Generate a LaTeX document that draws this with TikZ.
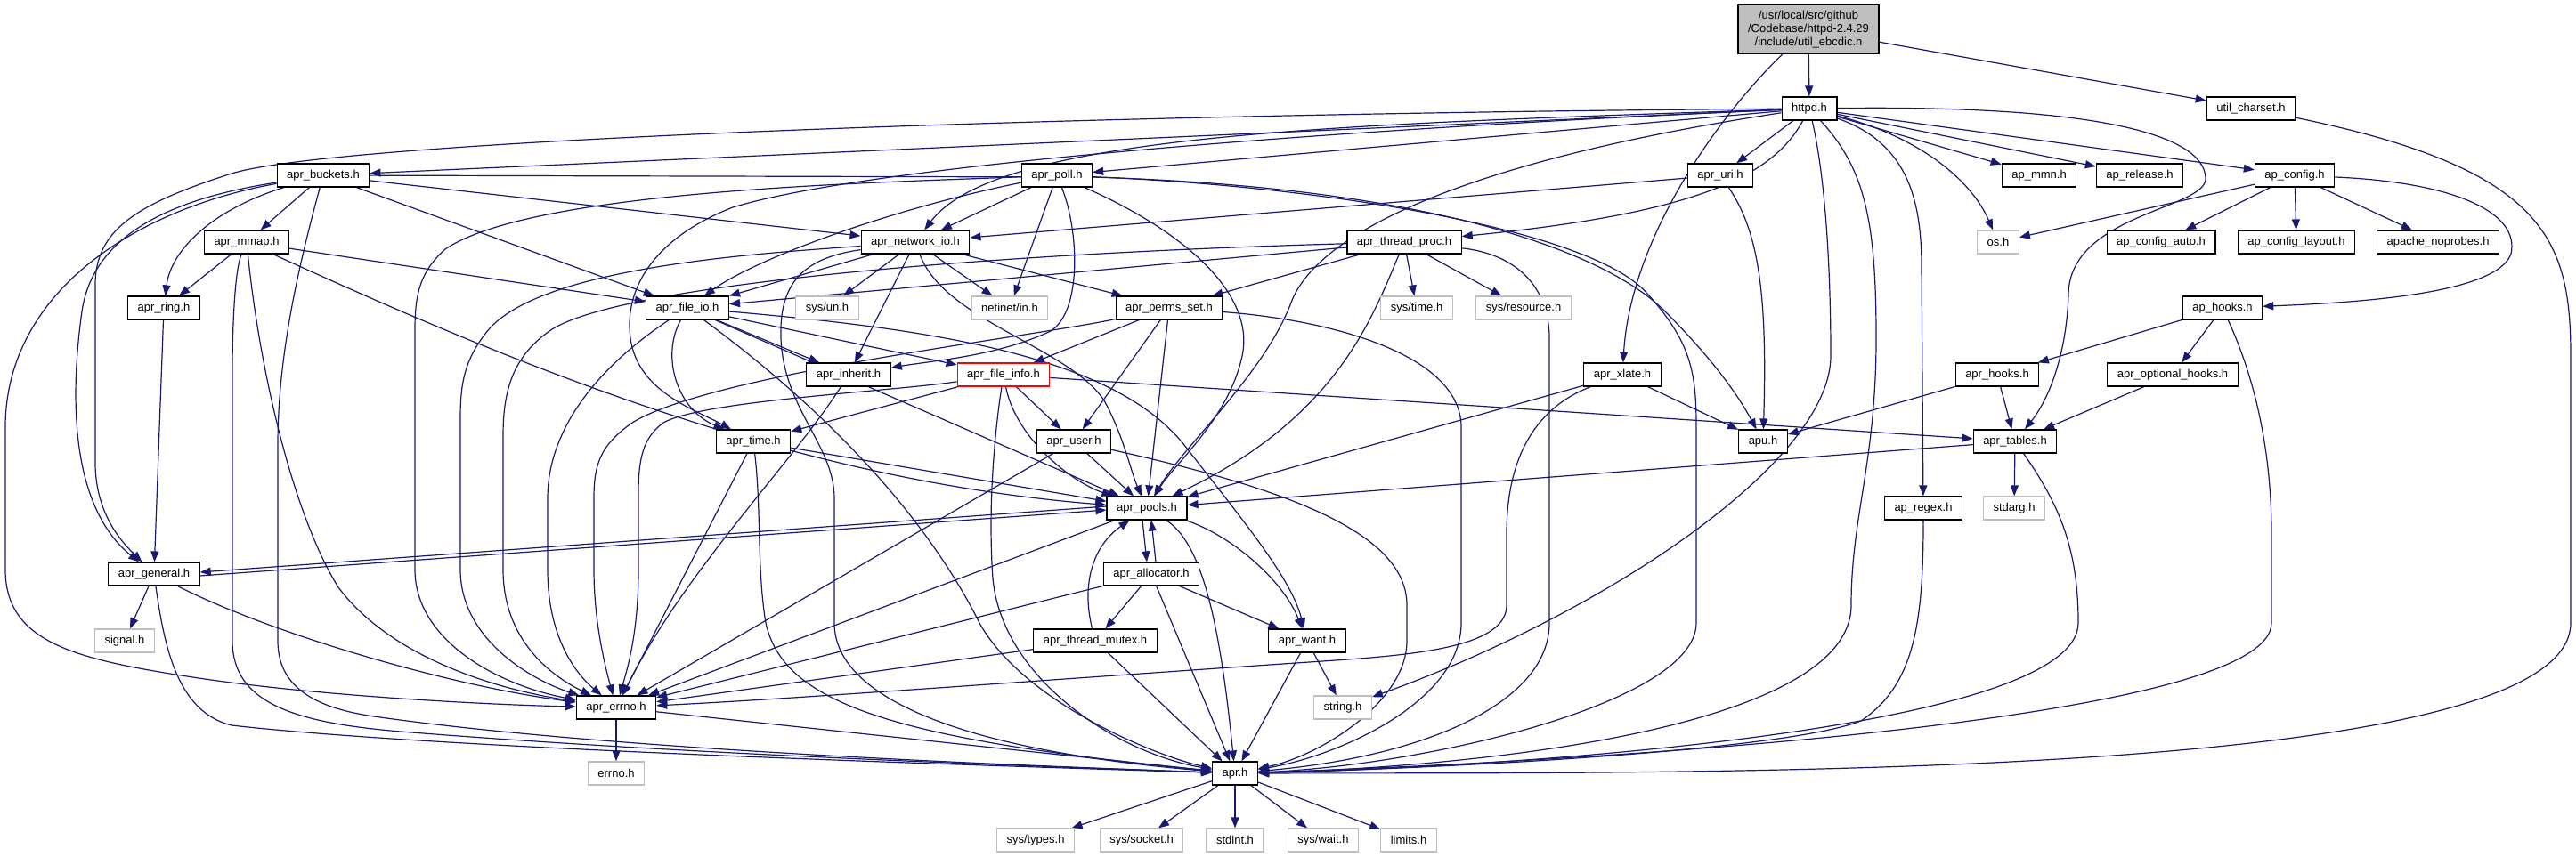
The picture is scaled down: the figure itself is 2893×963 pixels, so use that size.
\documentclass[tikz,border=0pt]{standalone}
\usepackage{fontspec}
\setmainfont{Liberation Sans}
\usetikzlibrary{arrows.meta}
\definecolor{edgeblue}{RGB}{25,25,112}
\definecolor{sysgray}{RGB}{191,191,191}
\pgfdeclarelayer{bglayer}
\pgfdeclarelayer{edgelayer}
\pgfsetlayers{bglayer,edgelayer,main}
\begin{document}
\begin{tikzpicture}[x=1pt,y=-1pt,
  hdr/.style={draw=black, line width=1.2pt, fill=white, font=\fontsize{13}{15}\selectfont,
    inner xsep=11pt, inner ysep=0pt, minimum height=26pt},
  syshdr/.style={hdr, draw=sysgray},
  rootnode/.style={hdr, fill=sysgray, align=center, minimum height=55pt, font=\fontsize{13}{15}\selectfont},
  dep/.style={draw=edgeblue, line width=1.2pt, -{Triangle[length=12pt,width=9pt]}}]
\useasboundingbox (0,0) rectangle (2893,963);
\begin{pgfonlayer}{bglayer}
\fill[white] (0,0) rectangle (2893,963);
\end{pgfonlayer}

\node[rootnode] (root) at (2031,33) {/usr/local/src/github\\/Codebase/httpd-2.4.29\\/include/util\_ebcdic.h};
\node[hdr] (httpd) at (2032,122) {httpd.h};
\node[hdr] (utilcs) at (2528,122) {util\_charset.h};
\node[hdr] (buckets) at (363,197) {apr\_buckets.h};
\node[hdr] (poll) at (1187,197) {apr\_poll.h};
\node[hdr] (uri) at (1932,197) {apr\_uri.h};
\node[hdr] (mmn) at (2290,197) {ap\_mmn.h};
\node[hdr] (release) at (2403,197) {ap\_release.h};
\node[hdr] (config) at (2577,197) {ap\_config.h};
\node[hdr] (mmap) at (277,272) {apr\_mmap.h};
\node[hdr] (netio) at (1028,272) {apr\_network\_io.h};
\node[hdr] (tproc) at (1577,272) {apr\_thread\_proc.h};
\node[syshdr] (os) at (2244,272) {os.h};
\node[hdr] (cauto) at (2427,272) {ap\_config\_auto.h};
\node[hdr] (clayout) at (2579,272) {ap\_config\_layout.h};
\node[hdr] (noprobes) at (2738,272) {apache\_noprobes.h};
\node[hdr] (ring) at (184,346) {apr\_ring.h};
\node[hdr] (fileio) at (772,346) {apr\_file\_io.h};
\node[syshdr] (sysun) at (929,346) {sys/un.h};
\node[syshdr] (netinet) at (1134,346) {netinet/in.h};
\node[hdr] (perms) at (1313,346) {apr\_perms\_set.h};
\node[syshdr] (systime) at (1591,346) {sys/time.h};
\node[syshdr] (sysres) at (1711,346) {sys/resource.h};
\node[hdr] (aphooks) at (2496,346) {ap\_hooks.h};
\node[hdr] (inherit) at (953,421) {apr\_inherit.h};
\node[hdr, draw=red] (finfo) at (1127,421) {apr\_file\_info.h};
\node[hdr] (xlate) at (1822,421) {apr\_xlate.h};
\node[hdr] (aprhooks) at (2243,421) {apr\_hooks.h};
\node[hdr] (opthooks) at (2440,421) {apr\_optional\_hooks.h};
\node[hdr] (time) at (846,496) {apr\_time.h};
\node[hdr] (user) at (1206,496) {apr\_user.h};
\node[hdr] (apu) at (1980,496) {apu.h};
\node[hdr] (tables) at (2263,496) {apr\_tables.h};
\node[hdr] (pools) at (1288,571) {apr\_pools.h};
\node[hdr] (regex) at (2160,571) {ap\_regex.h};
\node[syshdr] (stdarg) at (2262,571) {stdarg.h};
\node[hdr] (general) at (173,645) {apr\_general.h};
\node[hdr] (alloc) at (1293,645) {apr\_allocator.h};
\node[syshdr] (signal) at (140,720) {signal.h};
\node[hdr] (mutex) at (1230,720) {apr\_thread\_mutex.h};
\node[hdr] (want) at (1468,720) {apr\_want.h};
\node[hdr] (aerrno) at (692,795) {apr\_errno.h};
\node[syshdr] (string) at (1508,795) {string.h};
\node[hdr] (apr) at (1387,869) {apr.h};
\node[syshdr] (errnoh) at (692,869) {errno.h};
\node[syshdr] (systypes) at (1163,944) {sys/types.h};
\node[syshdr] (syssock) at (1282,944) {sys/socket.h};
\node[syshdr] (stdint) at (1387,944) {stdint.h};
\node[syshdr] (syswait) at (1486,944) {sys/wait.h};
\node[syshdr] (limits) at (1582,944) {limits.h};

\begin{pgfonlayer}{edgelayer}
% root
\draw[dep] (root) -- (httpd);
\draw[dep] (root) -- (utilcs);
\draw[dep] (root) .. controls (1940,120) and (1832,260) .. (xlate);
% util_charset
\draw[dep] (utilcs) .. controls (2860,190) and (2887,270) .. (2887,400) -- (2887,700) .. controls (2887,880) and (1900,868) .. (apr);
% httpd
\draw[dep] (httpd) -- (config);
\draw[dep] (httpd) -- (release);
\draw[dep] (httpd) -- (mmn);
\draw[dep] (httpd) .. controls (2160,155) and (2215,205) .. (os);
\draw[dep] (httpd) -- (uri);
\draw[dep] (httpd) .. controls (2140,160) and (2158,220) .. (2158,300) -- (regex);
\draw[dep] (httpd) .. controls (2095,190) and (2107,250) .. (2107,380) .. controls (2107,520) and (2079,580) .. (2079,680) .. controls (2079,820) and (1650,862) .. (apr);
\draw[dep] (httpd) .. controls (2050,200) and (2056,300) .. (2056,400) .. controls (2056,520) and (1800,690) .. (string);
\draw[dep] (httpd) .. controls (2350,118) and (2475,150) .. (2477,200) .. controls (2479,235) and (2325,240) .. (2323,330) .. controls (2321,400) and (2300,450) .. (tables);
\draw[dep] (httpd) .. controls (1990,200) and (1900,240) .. (tproc);
\draw[dep] (httpd) -- (poll);
\draw[dep] (httpd) .. controls (1500,140) and (1120,150) .. (netio);
\draw[dep] (httpd) -- (buckets);
\draw[dep] (httpd) .. controls (1200,128) and (380,158) .. (260,195) .. controls (150,230) and (107,260) .. (107,320) -- (107,520) .. controls (107,580) and (140,612) .. (general);
\draw[dep] (httpd) .. controls (1500,145) and (980,185) .. (823,233) .. controls (740,265) and (700,320) .. (708,380) .. controls (716,440) and (780,460) .. (time);
\draw[dep] (httpd) .. controls (1650,180) and (1480,260) .. (1450,340) .. controls (1420,420) and (1330,500) .. (pools);
% buckets
\draw[dep] (buckets) -- (1226,199) .. controls (1600,210) and (1800,280) .. (1870,350) .. controls (1930,410) and (1955,450) .. (apu);
\draw[dep] (buckets) -- (netio);
\draw[dep] (buckets) -- (fileio);
\draw[dep] (buckets) -- (mmap);
\draw[dep] (buckets) .. controls (240,235) and (192,280) .. (ring);
\draw[dep] (buckets) .. controls (200,222) and (105,260) .. (92,350) .. controls (78,450) and (80,570) .. (general);
\draw[dep] (buckets) .. controls (150,235) and (6,330) .. (6,480) -- (6,640) .. controls (6,720) and (80,740) .. (210,760) .. controls (350,782) and (550,792) .. (aerrno);
\draw[dep] (buckets) .. controls (335,300) and (312,400) .. (312,500) -- (312,720) .. controls (312,770) and (350,795) .. (420,805) .. controls (700,845) and (1200,862) .. (apr);
% poll
\draw[dep] (poll) -- (netio);
\draw[dep] (poll) .. controls (1000,235) and (850,290) .. (fileio);
\draw[dep] (poll) -- (netinet);
\draw[dep] (poll) .. controls (1212,260) and (1215,350) .. (1180,372) .. controls (1120,400) and (1050,405) .. (inherit);
\draw[dep] (poll) .. controls (1330,260) and (1410,330) .. (1395,400) .. controls (1380,470) and (1320,520) .. (pools);
\draw[dep] (poll) .. controls (1000,205) and (600,212) .. (500,280) .. controls (472,305) and (466,330) .. (466,370) -- (466,640) .. controls (466,720) and (560,770) .. (aerrno);
\draw[dep] (poll) .. controls (1500,210) and (1790,260) .. (1850,330) .. controls (1900,385) and (1905,420) .. (1905,480) -- (1905,700) .. controls (1905,790) and (1600,860) .. (apr);
% uri
\draw[dep] (uri) -- (netio);
\draw[dep] (uri) .. controls (1975,260) and (1985,330) .. (apu);
% network_io
\draw[dep] (netio) -- (sysun);
\draw[dep] (netio) -- (netinet);
\draw[dep] (netio) -- (inherit);
\draw[dep] (netio) -- (perms);
\draw[dep] (netio) -- (fileio);
\draw[dep] (netio) .. controls (1060,360) and (1200,390) .. (1240,450) .. controls (1262,490) and (1270,530) .. (pools);
\draw[dep] (netio) .. controls (850,285) and (600,300) .. (545,375) .. controls (522,405) and (517,430) .. (517,470) -- (517,640) .. controls (517,720) and (600,765) .. (aerrno);
\draw[dep] (netio) .. controls (900,290) and (875,320) .. (877,380) .. controls (880,460) and (937,500) .. (937,560) -- (937,700) .. controls (937,790) and (1100,845) .. (apr);
% thread_proc
\draw[dep] (tproc) -- (fileio);
\draw[dep] (tproc) -- (perms);
\draw[dep] (tproc) -- (systime);
\draw[dep] (tproc) -- (sysres);
\draw[dep] (tproc) .. controls (1540,360) and (1500,470) .. (pools);
\draw[dep] (tproc) .. controls (1100,285) and (700,320) .. (620,370) .. controls (575,400) and (565,440) .. (565,490) -- (565,640) .. controls (565,720) and (620,760) .. (aerrno);
\draw[dep] (tproc) .. controls (1700,285) and (1740,320) .. (1740,380) -- (1740,700) .. controls (1740,790) and (1600,850) .. (apr);
% file_io
\draw[dep] (fileio) -- (inherit);
\draw[dep] (fileio) -- (finfo);
\draw[dep] (fileio) .. controls (742,400) and (760,460) .. (time);
\draw[dep] (fileio) -- (pools);
\draw[dep] (fileio) .. controls (1050,370) and (1250,400) .. (1330,500) .. controls (1400,590) and (1450,650) .. (want);
\draw[dep] (fileio) .. controls (690,400) and (615,470) .. (615,560) -- (615,640) .. controls (615,720) and (650,760) .. (aerrno);
\draw[dep] (fileio) .. controls (900,440) and (1030,560) .. (1100,700) .. controls (1150,790) and (1300,850) .. (apr);
% perms_set
\draw[dep] (perms) -- (finfo);
\draw[dep] (perms) -- (user);
\draw[dep] (perms) -- (pools);
\draw[dep] (perms) .. controls (1150,380) and (800,420) .. (710,475) .. controls (675,500) and (667,520) .. (667,560) -- (667,640) .. controls (667,700) and (680,750) .. (aerrno);
\draw[dep] (perms) .. controls (1500,360) and (1641,400) .. (1641,480) -- (1641,700) .. controls (1641,790) and (1500,850) .. (apr);
% file_info
\draw[dep] (finfo) -- (user);
\draw[dep] (finfo) .. controls (1140,490) and (1200,540) .. (pools);
\draw[dep] (finfo) -- (tables);
\draw[dep] (finfo) -- (time);
\draw[dep] (finfo) .. controls (1000,440) and (790,450) .. (745,475) .. controls (722,492) and (717,515) .. (717,555) -- (717,640) .. controls (717,710) and (705,750) .. (aerrno);
\draw[dep] (finfo) .. controls (1115,500) and (1110,580) .. (1115,650) .. controls (1125,760) and (1250,845) .. (apr);
% inherit
\draw[dep] (inherit) .. controls (890,520) and (770,640) .. (aerrno);
% user
\draw[dep] (user) -- (pools);
\draw[dep] (user) -- (aerrno);
\draw[dep] (user) .. controls (1450,550) and (1580,600) .. (1580,680) -- (1580,720) .. controls (1580,790) and (1480,850) .. (apr);
% time
\draw[dep] (time) -- (pools);
\draw[dep] (time) -- (aerrno);
\draw[dep] (time) .. controls (855,570) and (850,640) .. (860,700) .. controls (880,790) and (1000,830) .. (apr);
% mmap
\draw[dep] (mmap) -- (ring);
\draw[dep] (mmap) -- (fileio);
\draw[dep] (mmap) .. controls (600,420) and (900,540) .. (pools);
\draw[dep] (mmap) .. controls (292,420) and (330,580) .. (380,660) .. controls (440,740) and (560,775) .. (aerrno);
\draw[dep] (mmap) .. controls (265,300) and (261,350) .. (261,420) -- (261,720) .. controls (261,790) and (330,812) .. (450,822) .. controls (800,850) and (1200,862) .. (apr);
% ring
\draw[dep] (ring) -- (general);
% general
\draw[dep] (general) -- (signal);
\draw[dep] (general) .. controls (300,710) and (500,770) .. (aerrno);
\draw[dep] (general) .. controls (185,730) and (200,800) .. (260,815) .. controls (500,842) and (1100,860) .. (apr);
\draw[dep] ([yshift=-2pt]general.east) -- ([yshift=-2pt]pools.west);
% pools
\draw[dep] ([yshift=2pt]pools.west) -- ([yshift=2pt]general.east);
\draw[dep] ([xshift=-5pt]pools.south) -- ([xshift=-5pt]alloc.north);
\draw[dep] (pools) .. controls (1380,600) and (1440,650) .. (want);
\draw[dep] (pools) .. controls (1350,610) and (1370,700) .. (apr);
\draw[dep] (pools) -- (aerrno);
% allocator
\draw[dep] ([xshift=5pt]alloc.north) -- ([xshift=5pt]pools.south);
\draw[dep] (alloc) -- (mutex);
\draw[dep] (alloc) -- (want);
\draw[dep] (alloc) -- (aerrno);
\draw[dep] (alloc) -- (apr);
% thread_mutex
\draw[dep] (mutex) .. controls (1215,660) and (1225,615) .. (pools);
\draw[dep] (mutex) -- (aerrno);
\draw[dep] (mutex) -- (apr);
% want
\draw[dep] (want) -- (string);
\draw[dep] (want) -- (apr);
% errno
\draw[dep] (aerrno) -- (errnoh);
\draw[dep] (aerrno) -- (apr);
% apr
\draw[dep] (apr) -- (systypes);
\draw[dep] (apr) -- (syssock);
\draw[dep] (apr) -- (stdint);
\draw[dep] (apr) -- (syswait);
\draw[dep] (apr) -- (limits);
% tables
\draw[dep] (tables) -- (stdarg);
\draw[dep] (tables) -- (pools);
\draw[dep] (tables) .. controls (2315,570) and (2334,620) .. (2334,700) .. controls (2334,820) and (1700,862) .. (apr);
% hooks
\draw[dep] (aprhooks) -- (apu);
\draw[dep] (aprhooks) -- (tables);
\draw[dep] (opthooks) -- (tables);
\draw[dep] (aphooks) -- (aprhooks);
\draw[dep] (aphooks) -- (opthooks);
\draw[dep] (aphooks) .. controls (2530,420) and (2551,500) .. (2551,600) -- (2551,700) .. controls (2551,810) and (1800,855) .. (apr);
% ap_config
\draw[dep] (config) -- (os);
\draw[dep] (config) -- (cauto);
\draw[dep] (config) -- (clayout);
\draw[dep] (config) -- (noprobes);
\draw[dep] (config) .. controls (2760,205) and (2830,240) .. (2820,285) .. controls (2805,330) and (2650,340) .. (aphooks);
% regex
\draw[dep] (regex) .. controls (2160,700) and (2150,770) .. (2090,810) .. controls (2000,845) and (1600,864) .. (apr);
% xlate
\draw[dep] (xlate) -- (apu);
\draw[dep] (xlate) -- (pools);
\draw[dep] (xlate) .. controls (1720,460) and (1692,520) .. (1692,600) -- (1692,680) .. controls (1692,725) and (1600,735) .. (1500,742) .. controls (1200,762) and (900,785) .. (aerrno);
\end{pgfonlayer}
\end{tikzpicture}
\end{document}
